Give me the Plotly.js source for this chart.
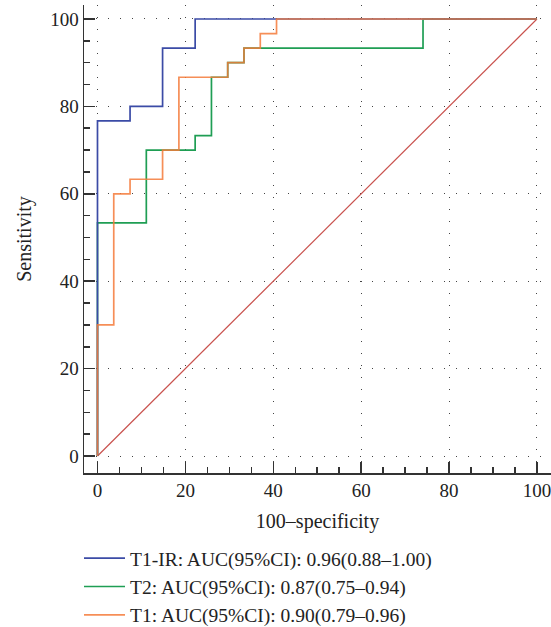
<!DOCTYPE html>
<html>
<head>
<meta charset="utf-8">
<script src="https://cdn.plot.ly/plotly-3.0.1.min.js"></script>
<style>html,body{margin:0;padding:0;background:#fff;}#chart{width:551px;height:627px;}</style>
</head>
<body>
<div id="chart"></div>
<script>
// ROC step coordinates (100-specificity, sensitivity)
const t1irX = [0, 0, 7.41, 7.41, 14.81, 14.81, 22.22, 22.22, 100];
const t1irY = [0, 76.67, 76.67, 80, 80, 93.33, 93.33, 100, 100];
const t2X = [0, 0, 11.11, 11.11, 22.22, 22.22, 25.93, 25.93, 29.63, 29.63, 33.33, 33.33, 74.07, 74.07, 100];
const t2Y = [0, 53.33, 53.33, 70, 70, 73.33, 73.33, 86.67, 86.67, 90, 90, 93.33, 93.33, 100, 100];
const t1X = [0, 0, 3.70, 3.70, 7.41, 7.41, 14.81, 14.81, 18.52, 18.52, 29.63, 29.63, 33.33, 33.33, 37.04, 37.04, 40.74, 40.74, 100];
const t1Y = [0, 30, 30, 60, 60, 63.33, 63.33, 70, 70, 86.67, 86.67, 90, 90, 93.33, 93.33, 96.67, 96.67, 100, 100];
const refX = [0, 100];
const refY = [0, 100];
const names = ["T1-IR: AUC(95%CI): 0.96(0.88\u20131.00)", "T2: AUC(95%CI): 0.87(0.75\u20130.94)", "T1: AUC(95%CI): 0.90(0.79\u20130.96)"];
const tickVals = [0, 20, 40, 60, 80, 100];

const FONT = "Liberation Serif, Times New Roman, serif";
const traces = [
  {x: refX, y: refY, mode: "lines", line: {color: "#c9524e", width: 1.2}, showlegend: false, hoverinfo: "skip"},
  {x: t2X, y: t2Y, mode: "lines", name: names[1], line: {color: "#1f9e54", width: 1.7}, legendrank: 2},
  {x: t1irX, y: t1irY, mode: "lines", name: names[0], line: {color: "#3b4ba6", width: 1.7}, legendrank: 1},
  {x: t1X, y: t1Y, mode: "lines", name: names[2], line: {color: "#f47a3a", width: 1.7}, opacity: 0.85, legendrank: 3}
];

const axisCommon = {
  showline: true, linecolor: "#333", linewidth: 1.5,
  ticks: "inside", ticklen: 11, tickwidth: 1.5, tickcolor: "#333",
  tickvals: tickVals,
  minor: {dtick: 5, ticks: "inside", ticklen: 6, tickwidth: 1.5, tickcolor: "#333", showgrid: false},
  showgrid: true, gridcolor: "#444", gridwidth: 1, griddash: "1px,11px",
  zeroline: false,
  ticklabeloverflow: "allow",
  tickfont: {family: FONT, size: 19, color: "#222"},
  mirror: false
};

const layout = {
  width: 551, height: 627,
  margin: {l: 84, r: 0, t: 5, b: 154, autoexpand: false},
  paper_bgcolor: "#fff", plot_bgcolor: "#fff",
  font: {family: FONT, color: "#222"},
  xaxis: Object.assign({}, axisCommon, {
    range: [-3.07, 103.19],
    title: {text: "100\u2013specificity", font: {family: FONT, size: 20, color: "#222"}, standoff: 13}
  }),
  yaxis: Object.assign({}, axisCommon, {
    range: [-3.89, 103.2],
    title: {text: "Sensitivity", font: {family: FONT, size: 20, color: "#222"}, standoff: 13}
  }),
  legend: {
    x: -0.0107, xanchor: "left", y: -0.141, yanchor: "top",
    orientation: "v", font: {family: FONT, size: 19.5, color: "#222"},
    itemwidth: 41,
    bgcolor: "rgba(0,0,0,0)", borderwidth: 0, traceorder: "normal"
  },
  showlegend: true
};

Plotly.newPlot("chart", traces, layout, {displayModeBar: false, staticPlot: true});
</script>
</body>
</html>
